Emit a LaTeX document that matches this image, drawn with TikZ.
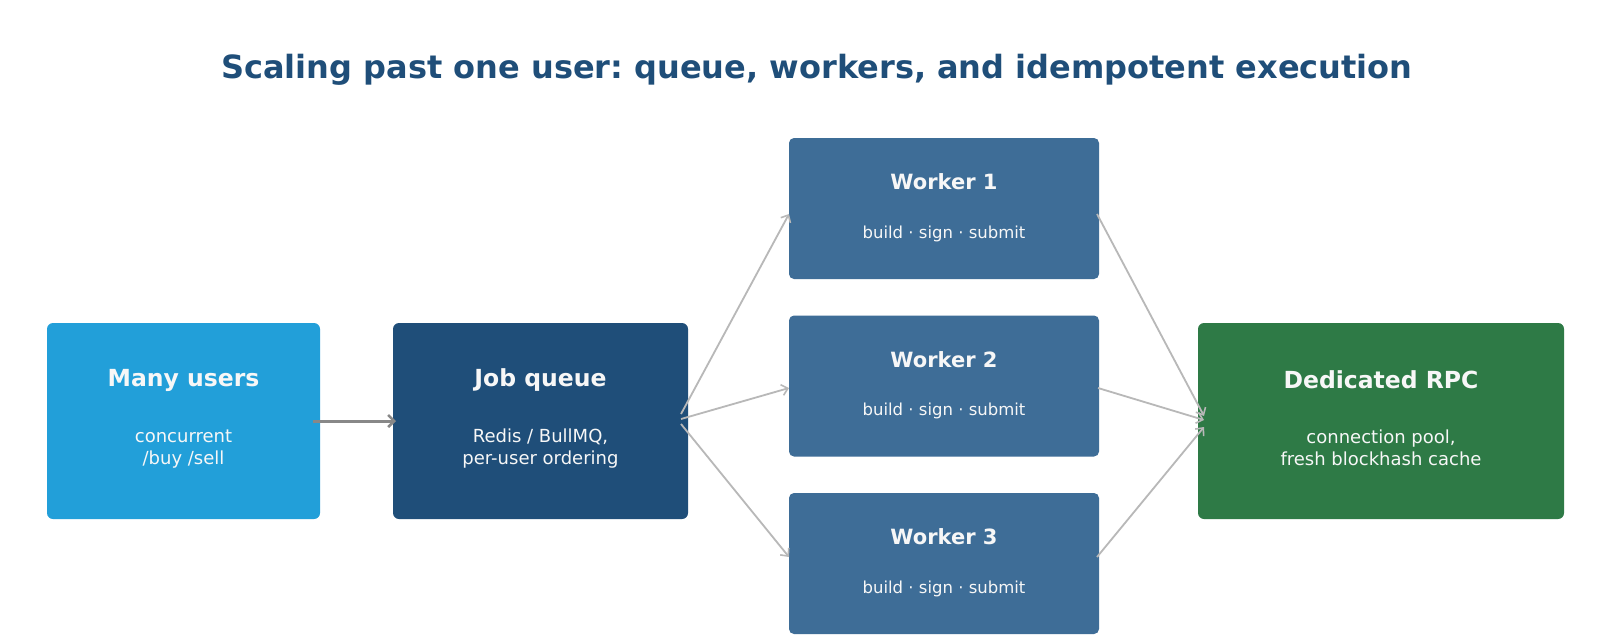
\documentclass[tikz,border=0pt]{standalone}
\usepackage{fontspec}
\setmainfont{DejaVu Sans}
\usetikzlibrary{arrows.meta}
\frenchspacing
\definecolor{titleblue}{HTML}{1F4E79}
\definecolor{usersblue}{HTML}{229FD9}
\definecolor{queueblue}{HTML}{1F4E79}
\definecolor{workerblue}{HTML}{3E6D97}
\definecolor{rpcgreen}{HTML}{2E7A46}
\definecolor{fanline}{HTML}{B8B8B8}
\definecolor{mainline}{HTML}{888888}
\definecolor{boxtext}{HTML}{F7F7F7}
\tikzset{
  bigbox/.style={rectangle, rounded corners=6pt, minimum width=273pt, minimum height=196pt, inner sep=0pt},
  workerbox/.style={rectangle, rounded corners=5pt, fill=workerblue, minimum width=310pt, minimum height=141pt, inner sep=0pt},
  bigtitle/.style={text=boxtext, font=\fontsize{23.5}{28}\selectfont\bfseries, inner sep=0pt},
  bigsub/.style={text=boxtext, font=\fontsize{18}{22}\selectfont, align=center, inner sep=0pt},
  wtitle/.style={text=boxtext, font=\fontsize{21}{25}\selectfont\bfseries, inner sep=0pt},
  wsub/.style={text=boxtext, font=\fontsize{16.5}{20}\selectfont, inner sep=0pt},
  fan/.style={draw=fanline, line width=1.8pt, -{Straight Barb[length=6pt,width=11pt,line width=1.6pt]}},
  mainarrow/.style={draw=mainline, line width=3pt, -{Straight Barb[length=6pt,width=12pt,line width=2.6pt]}}
}
\begin{document}
\begin{tikzpicture}[x=1pt,y=-1pt]
\useasboundingbox (0,0) rectangle (1613,643);
\fill[white] (0,0) rectangle (1613,643);
% title
\node[text=titleblue, font=\fontsize{32}{38}\selectfont\bfseries, inner sep=0pt] (title) at (817,70) {Scaling past one user: queue, workers, and idempotent execution};
% boxes
\node[bigbox, fill=usersblue] (users) at (183.5,421) {};
\node[bigbox, fill=queueblue, minimum width=295pt] (queue) at (540.5,421) {};
\node[workerbox] (w1) at (944,208.5) {};
\node[workerbox] (w2) at (944,386) {};
\node[workerbox] (w3) at (944,563.5) {};
\node[bigbox, fill=rpcgreen, minimum width=366pt] (rpc) at (1381,421) {};
% texts
\node[bigtitle] (usersT) at (183.5,380) {Many users};
\node[bigsub] (usersS) at (183.5,449) {concurrent\\/buy /sell};
\node[bigtitle] (queueT) at (540.5,380) {Job queue};
\node[bigsub] (queueS) at (540.5,449) {Redis / BullMQ,\\per-user ordering};
\node[wtitle] (w1T) at (944,182) {Worker 1};
\node[wsub] (w1S) at (944,233.5) {build · sign · submit};
\node[wtitle] (w2T) at (944,359.5) {Worker 2};
\node[wsub] (w2S) at (944,411) {build · sign · submit};
\node[wtitle] (w3T) at (944,537) {Worker 3};
\node[wsub] (w3S) at (944,588.5) {build · sign · submit};
\node[bigtitle] (rpcT) at (1381,380) {Dedicated RPC};
\node[bigsub] (rpcS) at (1381,448) {connection pool,\\fresh blockhash cache};
% connector endpoints
\coordinate (uOut) at (313,421);
\coordinate (qIn) at (396,421);
\coordinate (qOut1) at (681,414);
\coordinate (qOut2) at (681,419);
\coordinate (qOut3) at (681,424);
\coordinate (w1In) at (789,214);
\coordinate (w2In) at (789,388);
\coordinate (w3In) at (789,557);
\coordinate (w1Out) at (1097,214);
\coordinate (w2Out) at (1098,388);
\coordinate (w3Out) at (1097,557);
\coordinate (rIn1) at (1204,416);
\coordinate (rIn2) at (1204,420);
\coordinate (rIn3) at (1204,427);
% connectors
\draw[mainarrow] (uOut) -- (qIn);
\draw[fan] (qOut1) -- (w1In);
\draw[fan] (qOut2) -- (w2In);
\draw[fan] (qOut3) -- (w3In);
\draw[fan] (w1Out) -- (rIn1);
\draw[fan] (w2Out) -- (rIn2);
\draw[fan] (w3Out) -- (rIn3);
\end{tikzpicture}
\end{document}
